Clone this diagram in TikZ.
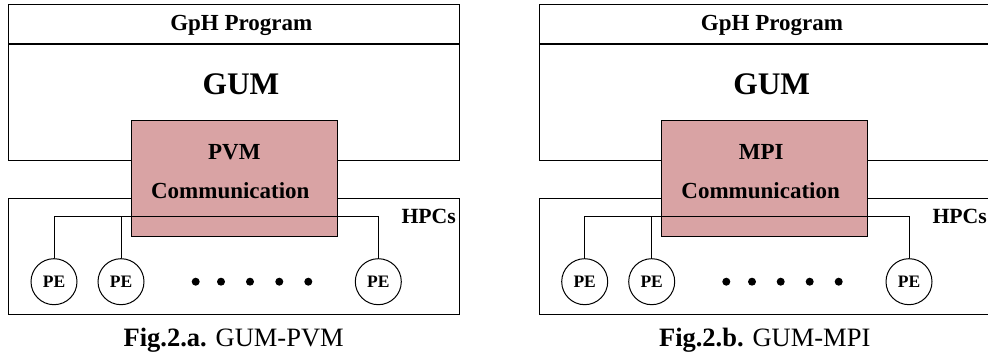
\documentclass[tikz,border=0pt]{standalone}
\usepackage{fontspec}
\setmainfont{Liberation Serif}
\usetikzlibrary{positioning}
\definecolor{commpink}{RGB}{217,163,164}
\tikzset{panel/.style={draw, line width=1pt, minimum width=451pt, inner sep=0pt}}
\tikzset{commbox/.style={draw, line width=1pt, fill=commpink, minimum width=206pt, minimum height=116pt, inner sep=0pt}}
\tikzset{pe/.style={draw, circle, line width=1pt, inner sep=0pt, minimum size=46pt, font=\fontsize{17.5}{20}\selectfont\bfseries}}
\tikzset{bigdot/.style={fill, circle, inner sep=0pt, minimum size=8pt}}
\tikzset{lbl/.style={anchor=base, inner sep=0pt, font=\fontsize{23}{27}\selectfont\bfseries}}
\tikzset{bus/.style={line width=1pt}}

\begin{document}
\begin{tikzpicture}[x=1pt, y=-1pt]
\useasboundingbox (0,0) rectangle (988,355);

% Fig.2.a
\node[panel, minimum height=39.3pt, anchor=north west] (gphA) at (8.3,4) {};
\node[panel, minimum height=116pt, below=0pt of gphA] (gumA) {};
\node[panel, minimum height=115.7pt, anchor=north west] (hpcA) at (8.3,198.3) {};
\node[commbox] (commA) at (234.2,178.7) {};

\node[lbl] (gphtxtA) at (241.3,31) {GpH Program};
\node[lbl, font=\fontsize{31.4}{36}\selectfont\bfseries] (gumtxtA) at (241,95) {GUM};
\node[lbl] (pvmA) at (234.3,159.3) {PVM};
\node[lbl] (commtxtA) at (230.3,198.3) {Communication};
\node[lbl, font=\fontsize{21.7}{25}\selectfont\bfseries] (hpctxtA) at (428.7,224) {HPCs};

\node[pe] (peA1) at (54,281.7) {PE};
\node[pe] (peA2) at (121,281.7) {PE};
\node[pe] (peA3) at (378.3,281.7) {PE};
\foreach \x [count=\i] in {195.7,221,250,279.3,308.3}
  \node[bigdot] (dotA\i) at (\x,281.7) {};

\coordinate (busA) at (54,217);
\draw[bus] (peA1.north) -- (busA) -| (peA3.north);
\draw[bus] (peA2.north) -- (peA2.north |- busA);

\node[anchor=base, inner sep=0pt, font=\fontsize{26.5}{30}\selectfont] (capA) at (233.7,346.7) {\textbf{Fig.2.a.} GUM-PVM};

% Fig.2.b
\node[panel, minimum height=39.3pt, anchor=north west] (gphB) at (539,4) {};
\node[panel, minimum height=116pt, below=0pt of gphB] (gumB) {};
\node[panel, minimum height=115.7pt, anchor=north west] (hpcB) at (539,198.3) {};
\node[commbox] (commB) at (764.9,178.7) {};

\node[lbl] (gphtxtB) at (772,31) {GpH Program};
\node[lbl, font=\fontsize{31.4}{36}\selectfont\bfseries] (gumtxtB) at (771.7,95) {GUM};
\node[lbl] (mpiB) at (761.3,159.3) {MPI};
\node[lbl] (commtxtB) at (760.7,198.3) {Communication};
\node[lbl, font=\fontsize{21.7}{25}\selectfont\bfseries] (hpctxtB) at (959.7,224) {HPCs};

\node[pe] (peB1) at (584.7,281.7) {PE};
\node[pe] (peB2) at (651.7,281.7) {PE};
\node[pe] (peB3) at (909,281.7) {PE};
\foreach \x [count=\i] in {726.3,752,780.7,809.7,838.7}
  \node[bigdot] (dotB\i) at (\x,281.7) {};

\coordinate (busB) at (584.7,217);
\draw[bus] (peB1.north) -- (busB) -| (peB3.north);
\draw[bus] (peB2.north) -- (peB2.north |- busB);

\node[anchor=base, inner sep=0pt, font=\fontsize{26.5}{30}\selectfont] (capB) at (764.7,346.7) {\textbf{Fig.2.b.} GUM-MPI};

\end{tikzpicture}
\end{document}
